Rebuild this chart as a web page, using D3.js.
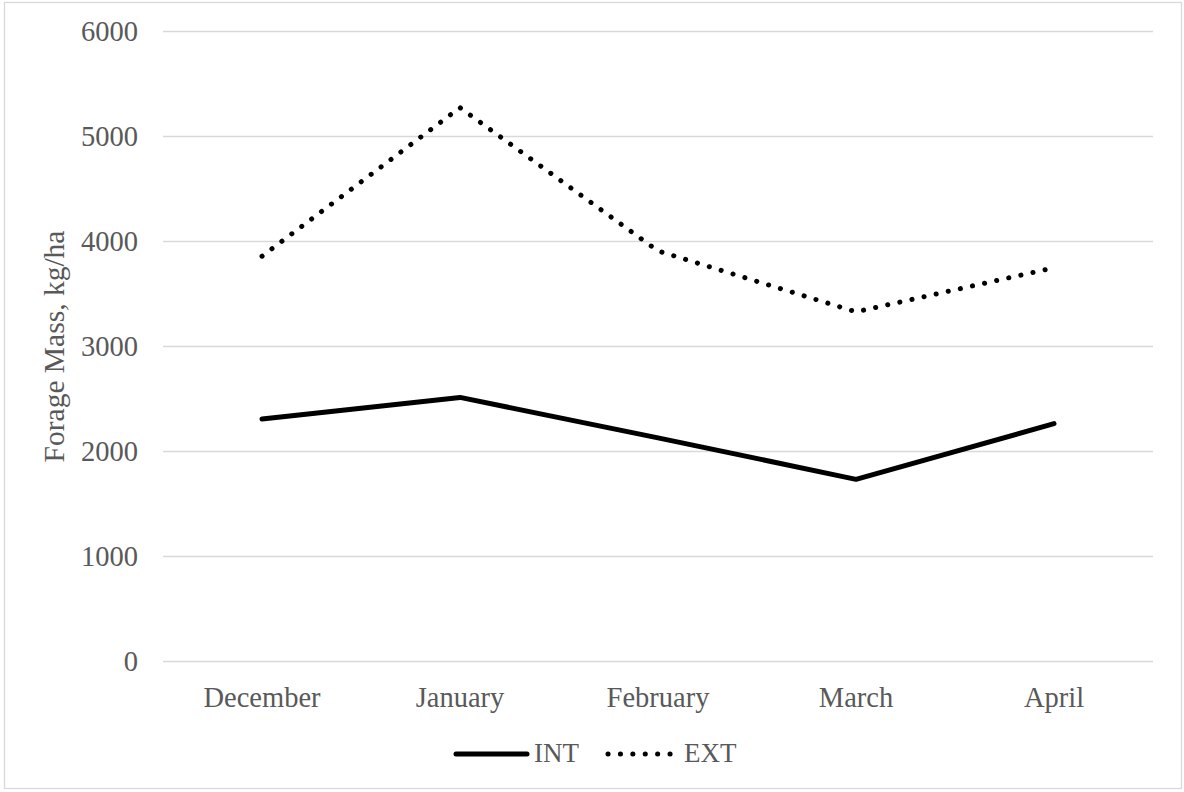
<!DOCTYPE html>
<html>
<head>
<meta charset="utf-8">
<script src="https://cdn.jsdelivr.net/npm/d3@7"></script>
<style>
  html, body { margin: 0; padding: 0; background: #fff; }
  svg { display: block; }
  text { font-family: "Liberation Serif", "Times New Roman", serif; fill: #595959; }
</style>
</head>
<body>
<svg id="chart" width="1184" height="792"></svg>
<script>
// Forage mass by month, two grazing treatments
const months = ["December", "January", "February", "March", "April"];
const intValues = [2310, 2515, 2130, 1735, 2265];
const extValues = [3860, 5275, 3910, 3330, 3750];
const yTicks = [0, 1000, 2000, 3000, 4000, 5000, 6000];
const seriesNames = ["INT", "EXT"];

const series = [
  { name: seriesNames[0], values: intValues, dash: null },
  { name: seriesNames[1], values: extValues, dash: "0.1,12.3" }
];

const svg = d3.select("#chart");
const W = 1184, H = 792;
const plot = { left: 163, right: 1153, top: 31.5, bottom: 661.5 };
const font = '"Liberation Serif", "Times New Roman", serif';

// Chart frame
svg.append("rect")
  .attr("x", 4.5).attr("y", 2.5)
  .attr("width", W - 7).attr("height", H - 6)
  .attr("fill", "#fff")
  .attr("stroke", "#d9d9d9").attr("stroke-width", 1.3);

const x = d3.scaleBand().domain(months).range([plot.left, plot.right]);
const y = d3.scaleLinear().domain([0, 6000]).range([plot.bottom, plot.top]);

// Horizontal gridlines
svg.append("g").selectAll("line").data(yTicks).join("line")
  .attr("x1", plot.left).attr("x2", plot.right)
  .attr("y1", d => y(d)).attr("y2", d => y(d))
  .attr("stroke", "#d9d9d9").attr("stroke-width", 1.4);

// Y axis labels
const yAxis = d3.axisLeft(y).tickValues(yTicks).tickFormat(d3.format("d"))
  .tickSize(0).tickPadding(25);
const yg = svg.append("g").attr("transform", `translate(${plot.left},0)`).call(yAxis);
yg.select(".domain").remove();
yg.selectAll("text")
  .style("font-family", font)
  .style("font-size", "28.5px").attr("fill", "#595959");

// X axis labels
const xAxis = d3.axisBottom(x).tickSize(0).tickPadding(0);
const xg = svg.append("g").attr("transform", `translate(0,${plot.bottom})`).call(xAxis);
xg.select(".domain").remove();
xg.selectAll("text")
  .attr("dy", null).attr("y", 45)
  .style("font-family", font)
  .style("font-size", "28.5px").attr("fill", "#595959");

// Y axis title
svg.append("text")
  .attr("transform", `translate(64,${(plot.top + plot.bottom) / 2}) rotate(-90)`)
  .attr("text-anchor", "middle")
  .style("font-size", "29.5px")
  .text("Forage Mass, kg/ha");

// Series lines
const line = d3.line()
  .x((d, i) => x(months[i]) + x.bandwidth() / 2)
  .y(d => y(d));

svg.append("g").selectAll("path").data(series).join("path")
  .attr("d", d => line(d.values))
  .attr("fill", "none")
  .attr("stroke", "#000")
  .attr("stroke-width", 5)
  .attr("stroke-linecap", "round")
  .attr("stroke-linejoin", "round")
  .attr("stroke-dasharray", d => d.dash);

// Legend
const legend = svg.append("g");
const legendItems = [
  { s: series[0], x1: 456, x2: 527, tx: 534 },
  { s: series[1], x1: 608, x2: 671, tx: 684 }
];
legendItems.forEach(it => {
  legend.append("line")
    .attr("x1", it.x1).attr("x2", it.x2)
    .attr("y1", 754).attr("y2", 754)
    .attr("stroke", "#000").attr("stroke-width", 5)
    .attr("stroke-linecap", "round")
    .attr("stroke-dasharray", it.s.dash);
  legend.append("text")
    .attr("x", it.tx).attr("y", 762)
    .style("font-size", "27px")
    .text(it.s.name);
});
</script>
</body>
</html>
